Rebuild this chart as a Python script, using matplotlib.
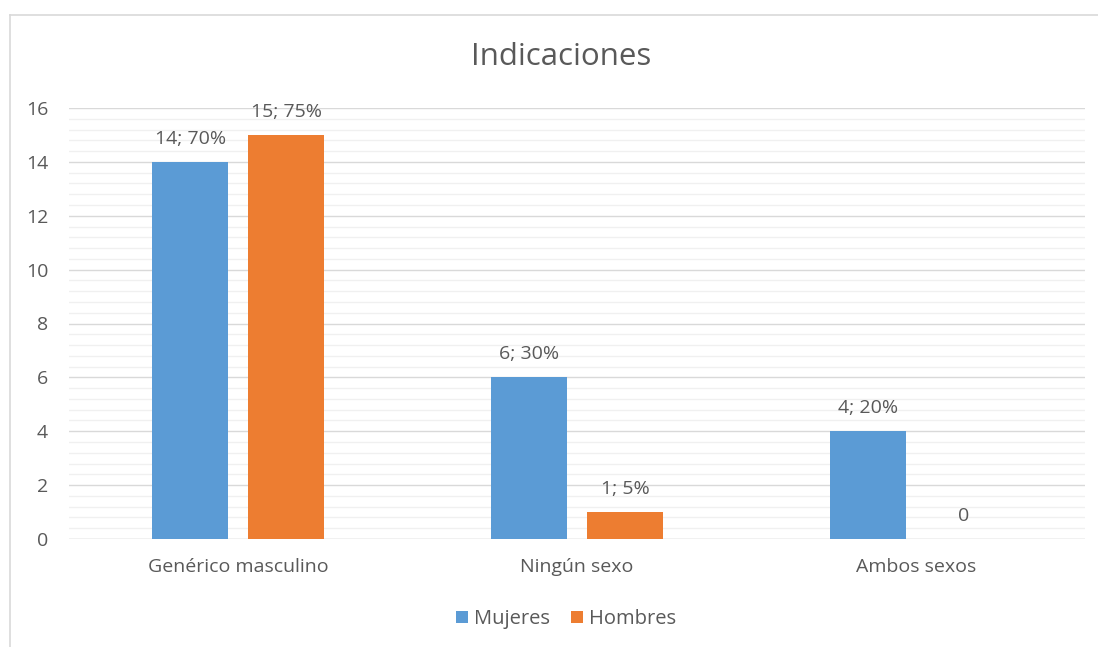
import matplotlib
matplotlib.use("Agg")
import matplotlib.pyplot as plt
import numpy as np
from matplotlib.lines import Line2D
from matplotlib.ticker import MultipleLocator

categories = ["Genérico masculino", "Ningún sexo", "Ambos sexos"]
series_names = ["Mujeres", "Hombres"]
mujeres = [14, 6, 4]
hombres = [15, 1, 0]
mujeres_labels = ["14; 70%", "6; 30%", "4; 20%"]
hombres_labels = ["15; 75%", "1; 5%", "0"]
title = "Indicaciones"

plt.rcParams['font.family'] = ['Open Sans', 'DejaVu Sans']
text_color = "#595959"
blue = "#5B9BD5"
orange = "#ED7D31"

fig = plt.figure(figsize=(10.98, 6.47), dpi=100)
ax = fig.add_axes([69/1098, 108/647, 1016/1098, 431/647])

x = np.arange(len(categories))
w = 0.224
off = 0.142
b1 = ax.bar(x - off, mujeres, w, color=blue, label=series_names[0], zorder=3)
b2 = ax.bar(x + off, hombres, w, color=orange, label=series_names[1], zorder=3)

for bars, labs in ((b1, mujeres_labels), (b2, hombres_labels)):
    for rect, lab in zip(bars, labs):
        ax.annotate(lab, (rect.get_x() + rect.get_width()/2, rect.get_height()),
                    xytext=(0, 23), textcoords="offset pixels", ha="center", va="center",
                    fontsize=14, color=text_color)

ax.set_xlim(-0.5, 2.5)
ax.set_ylim(0, 16)
ax.yaxis.set_major_locator(MultipleLocator(2))
ax.yaxis.set_minor_locator(MultipleLocator(0.4))
ax.grid(axis='y', which='major', color="#D9D9D9", linewidth=1.0, zorder=0)
ax.grid(axis='y', which='minor', color="#F0F0F0", linewidth=1.0, zorder=0)
ax.set_xticks(x)
ax.set_xticklabels(categories)
ax.tick_params(axis='both', which='both', length=0, labelsize=14, colors=text_color)
ax.tick_params(axis='x', pad=14)
ax.tick_params(axis='y', pad=15)
for s in ax.spines.values():
    s.set_visible(False)
ax.axhline(0, color="#D9D9D9", linewidth=1.0, zorder=2)

fig.text(561/1098, 1 - 57/647, title, ha="center", va="center", fontsize=22.5, color=text_color)

leg = fig.legend(handles=[b1, b2], loc="center", bbox_to_anchor=(566/1098, 1 - 619/647),
                 ncol=2, frameon=False, fontsize=14.5, handlelength=0.6, handleheight=0.6,
                 handletextpad=0.3, columnspacing=1.0, labelcolor=text_color)

# chart border (top and left visible)
fig.add_artist(Line2D([10/1098, 1], [1 - 15/647, 1 - 15/647], color="#D9D9D9", linewidth=1.2))
fig.add_artist(Line2D([10/1098, 10/1098], [0, 1 - 15/647], color="#D9D9D9", linewidth=1.2))

fig.savefig("out.png", dpi=100)
